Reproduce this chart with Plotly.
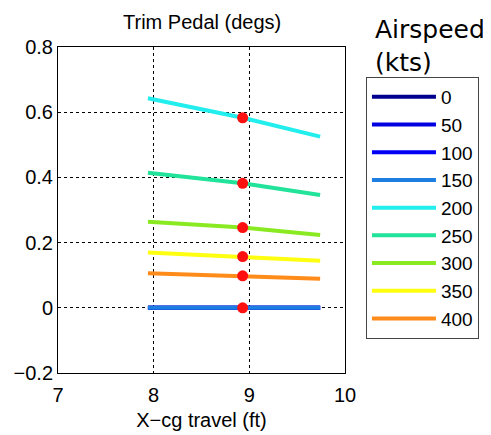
import plotly.graph_objects as go

# Data
airspeeds = ["0", "50", "100", "150", "200", "250", "300", "350", "400"]
colors = ["#00008F", "#0000E0", "#0000F5", "#1C7EE0", "#22EEEE", "#22E39A", "#8AEA22", "#FFFF10", "#FF8C1A"]
x_cg = [7.94, 8.93, 9.74]
pedal = {
    "0":   [0.0, 0.0, 0.0],
    "50":  [0.0, 0.0, 0.0],
    "100": [0.0, 0.0, 0.0],
    "150": [0.0, 0.0, 0.0],
    "200": [0.643, 0.583, 0.525],
    "250": [0.414, 0.382, 0.346],
    "300": [0.264, 0.246, 0.223],
    "350": [0.170, 0.157, 0.144],
    "400": [0.106, 0.098, 0.089],
}
trim_x = 8.93
trim_vals = [0.0, 0.583, 0.382, 0.246, 0.157, 0.098]

x_ticks = [7, 8, 9, 10]
y_ticks = [-0.2, 0, 0.2, 0.4, 0.6, 0.8]
y_ticklabels = ["\u22120.2", "0", "0.2", "0.4", "0.6", "0.8"]

fig = go.Figure()
for i, (a, c) in enumerate(zip(airspeeds, colors)):
    fig.add_trace(go.Scatter(
        x=x_cg, y=pedal[a], mode="lines", name=a,
        line=dict(color=c, width=4), legendgroup=f"g{i}",
    ))
fig.add_trace(go.Scatter(
    x=[trim_x] * len(trim_vals), y=trim_vals, mode="markers",
    marker=dict(color="#FF1010", size=11), showlegend=False,
))

helv = "Liberation Sans, Arial, Helvetica, sans-serif"
fig.update_layout(
    width=483, height=427,
    margin=dict(l=50, r=146, t=39, b=62),
    paper_bgcolor="white", plot_bgcolor="white",
    font=dict(family=helv, size=20, color="black"),
    showlegend=True,
    legend=dict(
        x=1.073, xanchor="left", y=0.908, yanchor="top",
        bordercolor="#444444", borderwidth=1,
        font=dict(family=helv, size=19, color="black"),
        tracegroupgap=0, itemwidth=64,
    ),
    annotations=[
        dict(text="Trim Pedal (degs)", x=0.5, y=1, xref="paper", yref="paper",
             xanchor="center", yanchor="bottom", yshift=12, showarrow=False,
             font=dict(family=helv, size=20, color="black")),
        dict(text="Airspeed<br>(kts)", x=1.098, y=1.105, xref="paper", yref="paper",
             xanchor="left", yanchor="top", align="left", showarrow=False,
             font=dict(family="DejaVu Sans, Verdana, sans-serif", size=25, color="black")),
    ],
)
fig.update_xaxes(
    range=[7, 10], tickvals=x_ticks, ticktext=[str(v) for v in x_ticks],
    tickfont=dict(size=20), ticklabelstandoff=4, automargin=False,
    showgrid=True, gridcolor="black", griddash="dot", gridwidth=1,
    showline=True, linecolor="black", linewidth=1, mirror=True,
    zeroline=False, ticks="", title=dict(text="X\u2212cg travel (ft)", standoff=7,
                                         font=dict(size=20)),
)
fig.update_yaxes(
    range=[-0.2, 0.8], tickvals=y_ticks, ticktext=y_ticklabels,
    tickfont=dict(size=20), automargin=False,
    showgrid=True, gridcolor="black", griddash="dot", gridwidth=1,
    showline=True, linecolor="black", linewidth=1, mirror=True,
    zeroline=False, ticks="",
)
fig.write_html("out.html")
